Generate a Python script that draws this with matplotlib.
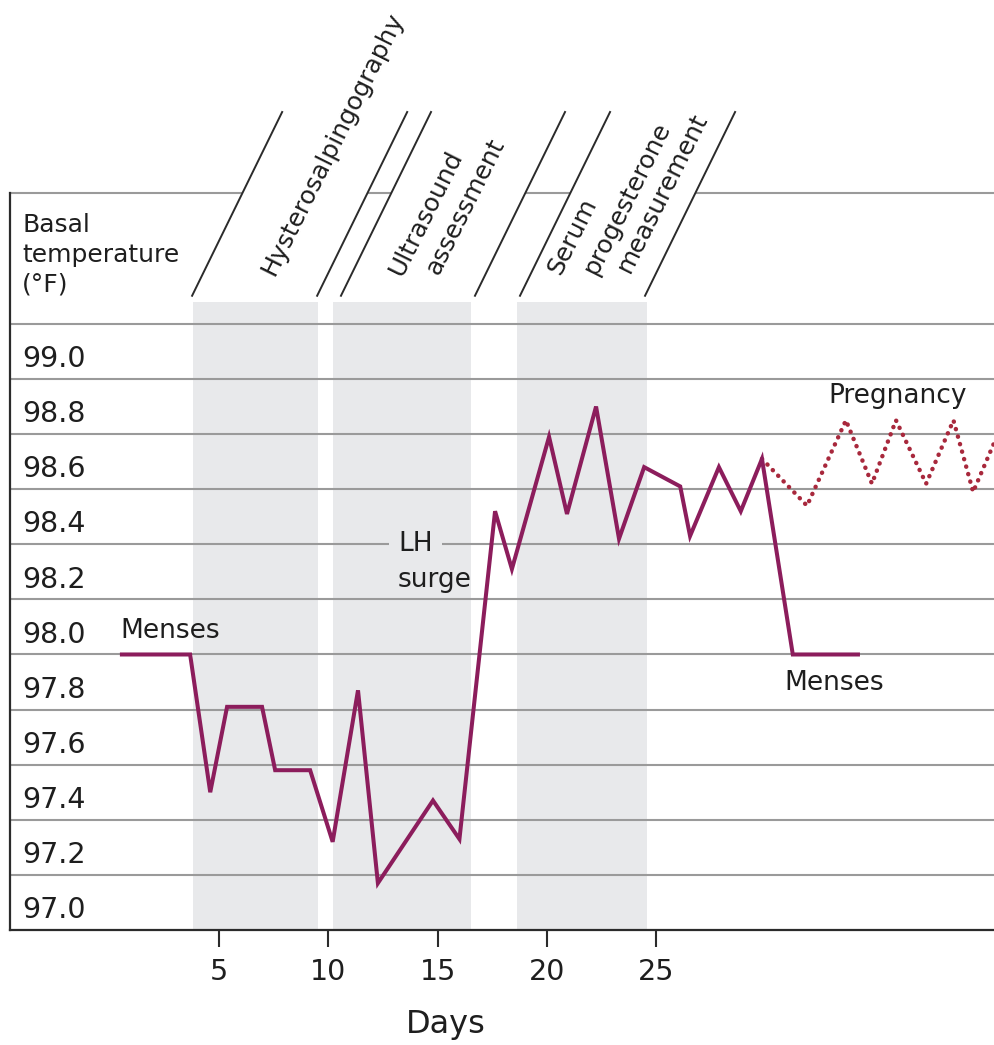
import numpy as np
import matplotlib.pyplot as plt
from matplotlib.transforms import blended_transform_factory

plt.rcParams['font.family'] = ['DejaVu Sans']

# Basal temperature record (day, degrees F)
cycle_days = [0.56, 3.68, 4.6, 5.37, 6.97, 7.57, 9.17, 10.2, 11.36, 12.27, 14.79,
              16.0, 17.63, 18.4, 20.1, 20.92, 22.25, 23.3, 24.45, 26.1, 26.55,
              27.87, 28.87, 29.84, 31.25, 34.23]
cycle_temp = [98.0, 98.0, 97.5, 97.81, 97.81, 97.58, 97.58, 97.32, 97.87, 97.17, 97.47,
              97.33, 98.52, 98.31, 98.79, 98.51, 98.9, 98.42, 98.68, 98.61, 98.43,
              98.68, 98.52, 98.71, 98.0, 98.0]

preg_days = [29.84, 31.9, 33.68, 34.87, 35.97, 37.35, 38.6, 39.5, 40.9]
preg_temp = [98.71, 98.54, 98.85, 98.62, 98.85, 98.62, 98.85, 98.59, 98.85]

# Testing windows (shaded) and their slanted header brackets
windows = [(3.81, 9.54), (10.22, 16.53), (18.63, 24.58)]
bracket_starts = [(3.77, 9.49), (10.58, 16.71), (18.77, 24.49)]

# header text, one entry per printed line: (text, start day, baseline value)
header_lines = [
    ("Hysterosalpingography", 7.5, 99.37),
    ("Ultrasound", 13.35, 99.37),
    ("assessment", 15.05, 99.374),
    ("Serum", 20.6, 99.374),
    ("progesterone", 22.25, 99.374),
    ("measurement", 23.8, 99.381),
]

ytick_vals = [97.0, 97.2, 97.4, 97.6, 97.8, 98.0, 98.2, 98.4, 98.6, 98.8, 99.0]
grid_vals = [97.2, 97.4, 97.6, 97.8, 98.0, 98.2, 98.4, 98.6, 98.8, 99.0, 99.2]
xtick_vals = [5, 10, 15, 20, 25]

line_col = "#8c1d5c"
preg_col = "#a8283c"
shade_col = "#e8e9eb"
grid_col = "#9a9a9a"
dark = "#2b2b2b"
txt = "#1e1e1e"

fig = plt.figure(figsize=(9.95, 10.45), dpi=100)
ax = fig.add_axes([10 / 995, 115 / 1045, 1 - 10 / 995, 737 / 1045])
ymin, ymax = 97.0, 99.675
ax.set_xlim(-4.56, 40.5)
ax.set_ylim(ymin, ymax)

for a, b in windows:
    ax.fill_between([a, b], ymin, 99.28, color=shade_col, lw=0, zorder=0)

for v in grid_vals:
    ax.axhline(v, color=grid_col, lw=1.5, zorder=1)
ax.axhline(ymax, color=grid_col, lw=1.5, zorder=1, clip_on=False)

ax.plot(cycle_days, cycle_temp, color=line_col, lw=2.9, zorder=5,
        solid_joinstyle="miter")
ax.plot(preg_days, preg_temp, color=preg_col, lw=3.2, zorder=4,
        linestyle=(0, (0.05, 1.7)), dash_capstyle="round")

# slanted header brackets
y_lo, y_hi = 99.302, 99.969
dx = 4.12
for (d0, d1) in bracket_starts:
    ax.fill([d0, d1, d1 + dx, d0 + dx], [y_lo, y_lo, y_hi, y_hi],
            color="white", lw=0, zorder=2, clip_on=False)
    for d in (d0, d1):
        ax.plot([d, d + dx], [y_lo, y_hi], color=dark, lw=1.4, zorder=3,
                clip_on=False)

for lab, d, v in header_lines:
    ax.text(d, v, lab, rotation=63.5, rotation_mode="anchor",
            ha="left", va="baseline", fontsize=18, color=txt,
            zorder=6, clip_on=False)

# y tick labels inside the plot
trans = blended_transform_factory(ax.transAxes, ax.transData)
for v in ytick_vals:
    ax.text(0.0122, v + 0.072, f"{v:.1f}", transform=trans, ha="left",
            va="center", fontsize=20.5, color=txt, zorder=6)
ax.text(0.0122, 99.45, "Basal\ntemperature\n(°F)", transform=trans,
        ha="left", va="center", fontsize=18, color=txt,
        linespacing=1.3, zorder=6)

# annotations
ax.text(0.47, 98.085, "Menses", ha="left", va="center", fontsize=19,
        color=txt, zorder=6)
ax.text(30.88, 97.897, "Menses", ha="left", va="center", fontsize=19,
        color=txt, zorder=6)
ax.text(32.9, 98.94, "Pregnancy", ha="left", va="center", fontsize=19,
        color=txt, zorder=6)
ax.text(13.19, 98.4, "LH", ha="left", va="center", fontsize=19,
        color=txt, zorder=6,
        bbox=dict(boxstyle="square,pad=0.35", fc=shade_col, ec="none"))
ax.text(13.19, 98.27, "surge", ha="left", va="center", fontsize=19,
        color=txt, zorder=6)

ax.set_yticks([])
ax.set_xticks(xtick_vals)
ax.set_xticklabels([str(x) for x in xtick_vals], fontsize=20.5, color=txt)
ax.tick_params(axis="x", direction="out", length=12, width=1.5, color=dark, pad=8)
for s in ("top", "right"):
    ax.spines[s].set_visible(False)
for s in ("left", "bottom"):
    ax.spines[s].set_color(dark)
    ax.spines[s].set_linewidth(1.6)
    ax.spines[s].set_zorder(7)

fig.text(446 / 995, 1 - 1025 / 1045, "Days", ha="center", va="center",
         fontsize=23, color=txt)

fig.savefig("out.png", dpi=100, facecolor="white")
